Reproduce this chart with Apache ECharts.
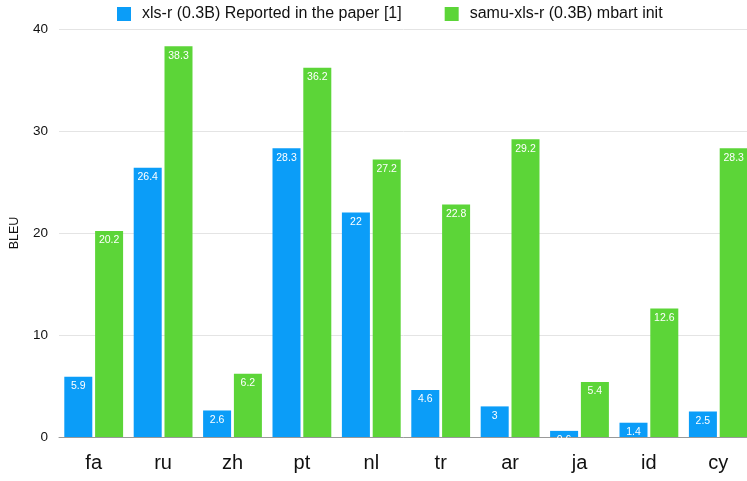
<!DOCTYPE html>
<html><head><meta charset="utf-8">
<script src="https://cdn.jsdelivr.net/npm/echarts@6/dist/echarts.min.js"></script>
<style>html,body{margin:0;padding:0;background:#fff}#c{width:747px;height:481px}</style>
</head><body><div id="c"></div>
<script>
const categories = ['fa','ru','zh','pt','nl','tr','ar','ja','id','cy'];
const seriesNames = ['xls-r (0.3B) Reported in the paper [1]', 'samu-xls-r (0.3B) mbart init'];
const xlsr = [5.9, 26.4, 2.6, 28.3, 22, 4.6, 3, 0.6, 1.4, 2.5];
const samu = [20.2, 38.3, 6.2, 36.2, 27.2, 22.8, 29.2, 5.4, 12.6, 28.3];
const yTicks = [0, 10, 20, 30, 40];

const chart = echarts.init(document.getElementById('c'));
const lbl = {show: true, position: 'insideTop', color: '#fff', fontSize: 10.5, distance: 4};
chart.setOption({
  animation: false,
  textStyle: {fontFamily: 'Liberation Sans, Arial, sans-serif'},
  legend: {
    top: 1, left: 112, itemWidth: 14, itemHeight: 14, itemGap: 43, icon: 'rect',
    textStyle: {fontSize: 16, color: '#111', padding: [0, 0, 0, 6]},
    data: seriesNames
  },
  grid: {left: 59, right: -6, top: 29, bottom: 44, outerBoundsMode: 'none', containLabel: false},
  xAxis: {
    type: 'category', data: categories,
    axisLine: {lineStyle: {color: '#999'}},
    axisTick: {show: false},
    axisLabel: {fontSize: 20, color: '#111', margin: 16}
  },
  yAxis: {
    type: 'value', min: yTicks[0], max: yTicks[yTicks.length-1], interval: 10,
    name: 'BLEU', nameLocation: 'middle', nameGap: 38, nameRotate: 90,
    nameTextStyle: {fontSize: 12.5, color: '#111'},
    axisLabel: {fontSize: 13.5, color: '#111', margin: 11},
    splitLine: {lineStyle: {color: '#e4e4e4'}}
  },
  series: [
    {name: seriesNames[0], type: 'bar', data: xlsr, barWidth: 28, barGap: '10%', itemStyle: {color: '#0b9df8'}, label: lbl},
    {name: seriesNames[1], type: 'bar', data: samu, barWidth: 28, itemStyle: {color: '#5cd538'}, label: lbl}
  ]
});
</script></body></html>
